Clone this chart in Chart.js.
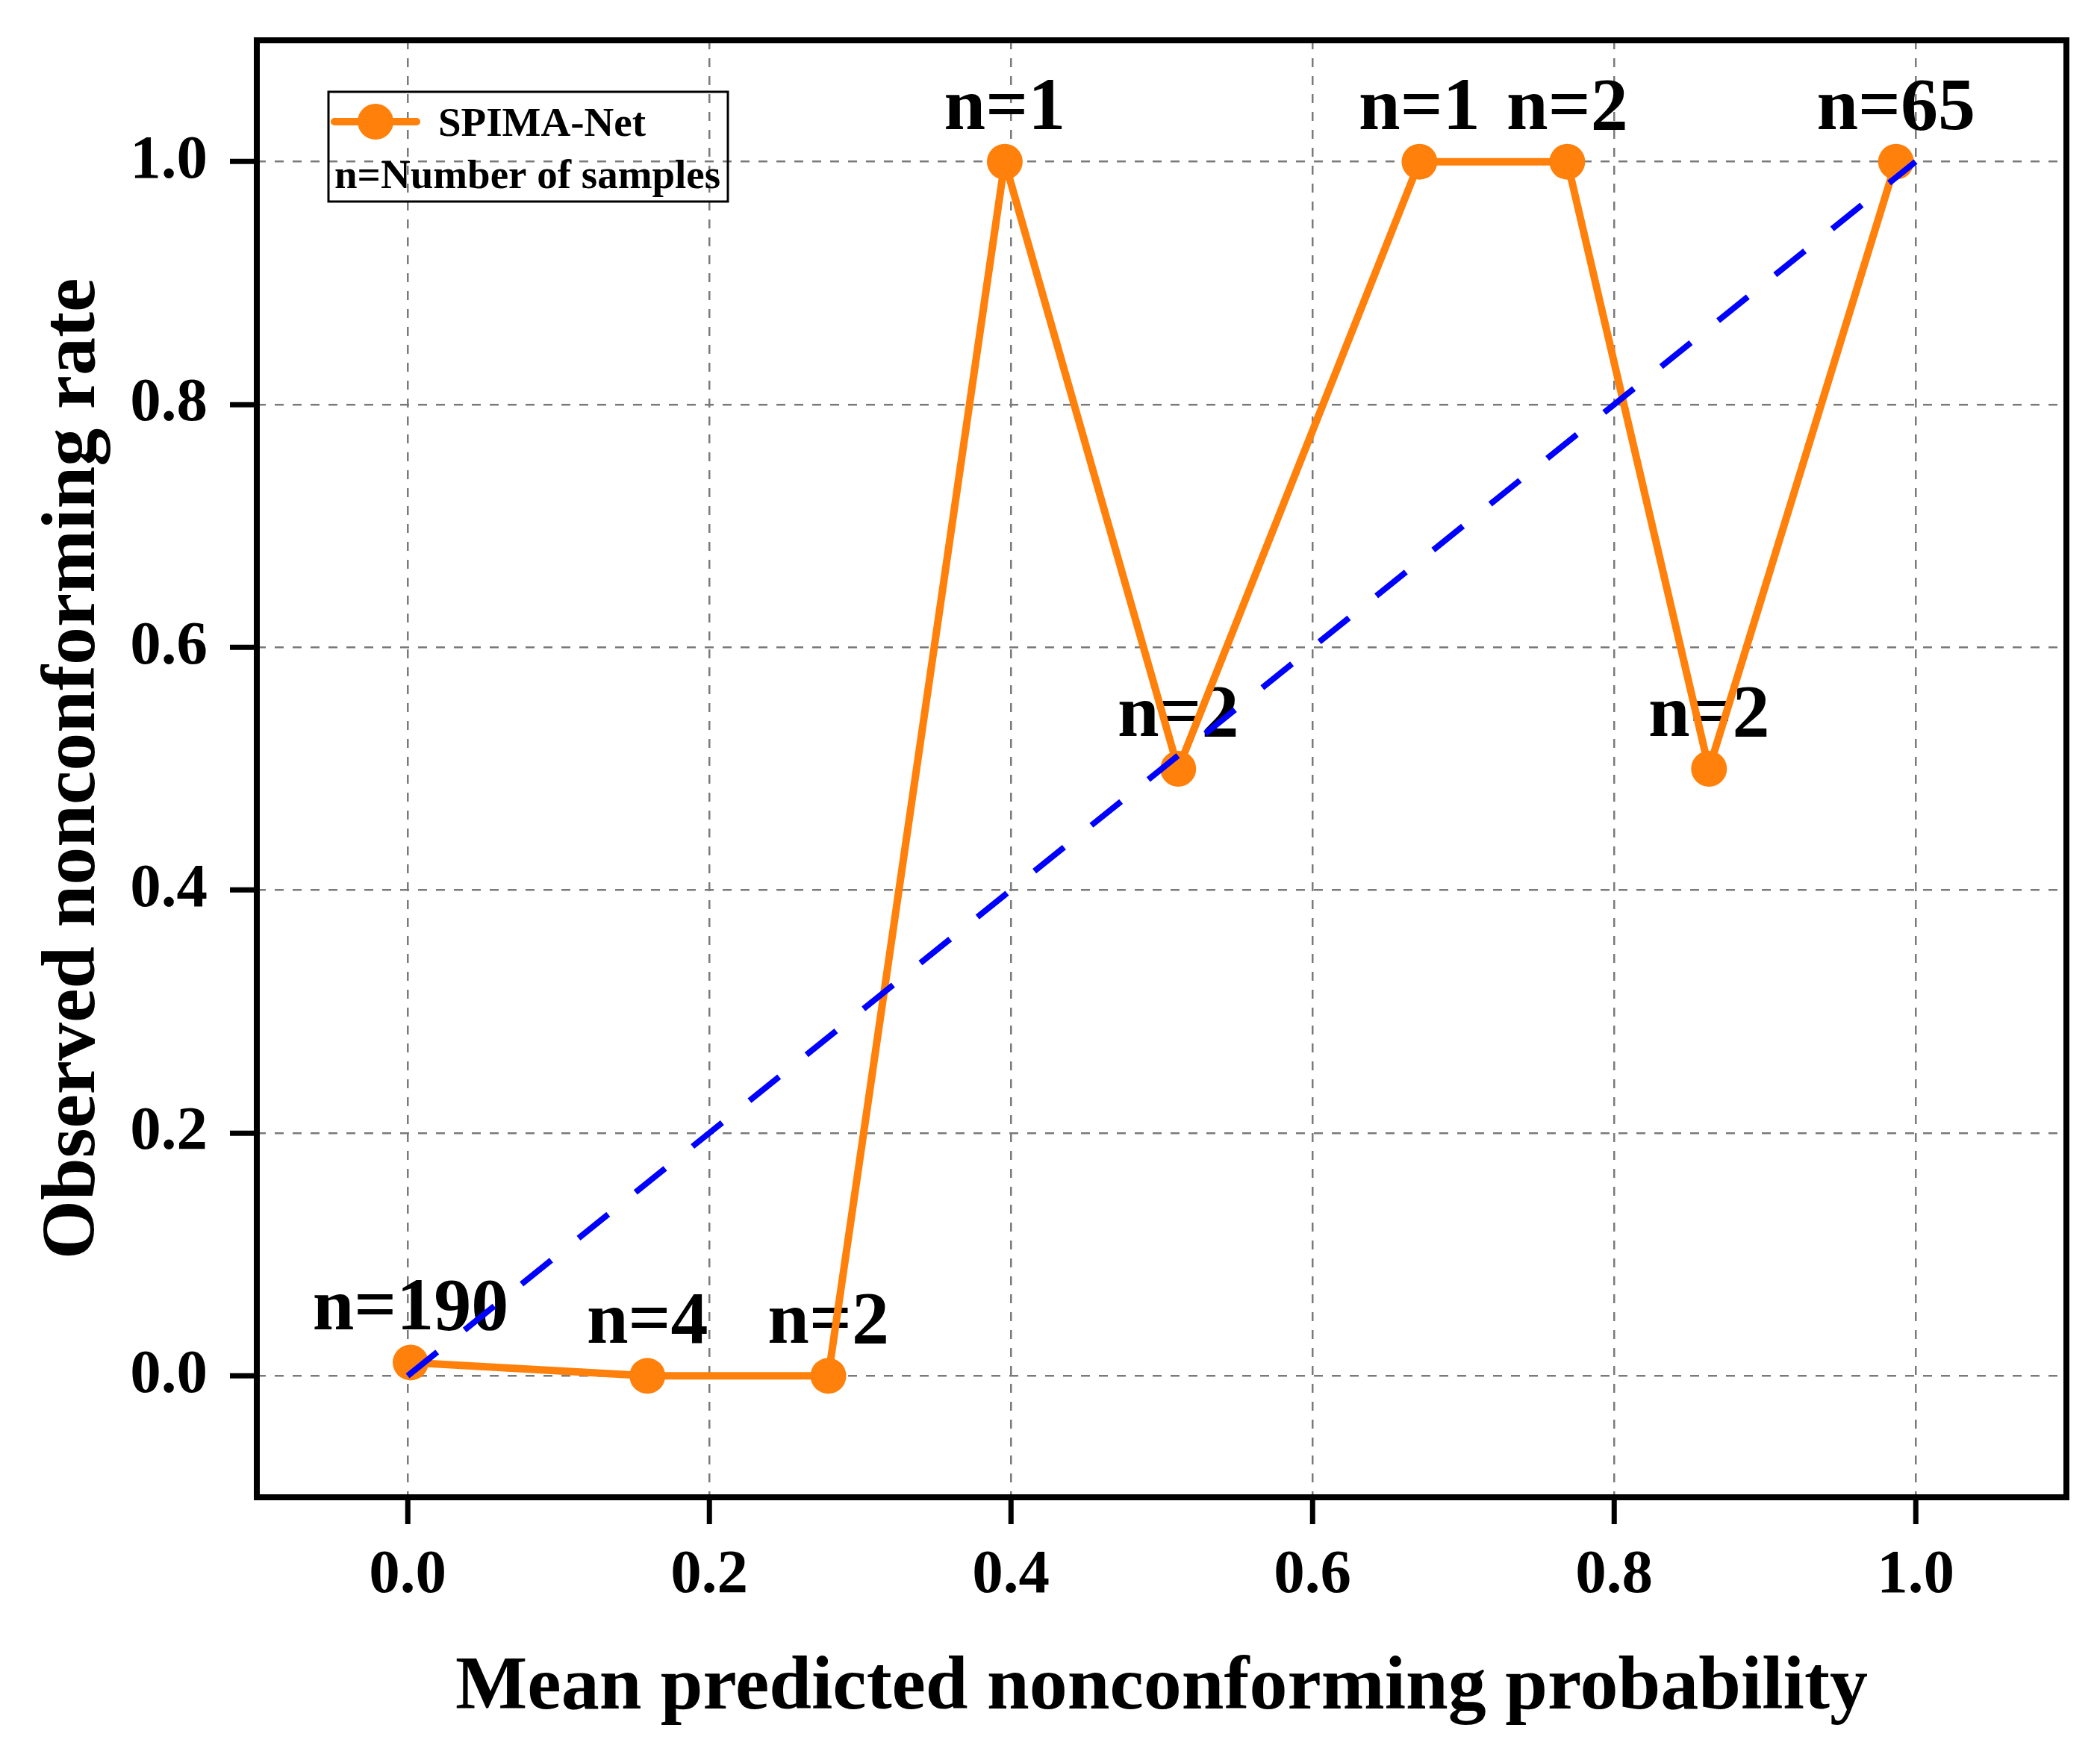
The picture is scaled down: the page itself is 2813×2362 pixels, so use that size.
<!DOCTYPE html>
<html>
<head>
<meta charset="utf-8">
<script src="https://cdn.jsdelivr.net/npm/chart.js@4.4.1/dist/chart.umd.min.js"></script>
<style>
  html, body { margin: 0; padding: 0; background: #fff; }
  canvas { display: block; }
</style>
</head>
<body>
<canvas id="c" width="2813" height="2362"></canvas>
<script>
// ---- data ----
const meanPredicted = [0.002, 0.159, 0.279, 0.396, 0.511, 0.671, 0.769, 0.863, 0.987];
const observedRate  = [0.011, 0.0, 0.0, 1.0, 0.5, 1.0, 1.0, 0.5, 1.0];
const sampleCounts  = [190, 4, 2, 1, 2, 1, 2, 2, 65];
const diagonalX = [0, 1];
const diagonalY = [0, 1];
const xTickValues = [0, 0.2, 0.4, 0.6, 0.8, 1.0];
const yTickValues = [0, 0.2, 0.4, 0.6, 0.8, 1.0];
const seriesName = 'SPIMA-Net';
const legendNote = 'n=Number of samples';
const xTitle = 'Mean predicted nonconforming probability';
const yTitle = 'Observed nonconforming rate';

const FONT = '"Liberation Serif", "Times New Roman", serif';
const ORANGE = '#ff800a';
const BLUE = '#0000ff';

const framePlugin = {
  id: 'frame',
  afterDraw(chart) {
    const {ctx, chartArea: a} = chart;
    ctx.save();
    ctx.lineWidth = 8;
    ctx.strokeStyle = '#000';
    ctx.strokeRect(a.left, a.top, a.right - a.left, a.bottom - a.top);
    ctx.restore();
  }
};

const countLabelPlugin = {
  id: 'countLabels',
  beforeDatasetsDraw(chart) {
    const {ctx} = chart;
    const meta = chart.getDatasetMeta(0);
    ctx.save();
    ctx.font = 'bold 100px ' + FONT;
    ctx.fillStyle = '#000';
    ctx.textAlign = 'center';
    ctx.textBaseline = 'alphabetic';
    meta.data.forEach((pt, i) => {
      ctx.fillText('n=' + sampleCounts[i], pt.x, pt.y - 44);
    });
    ctx.restore();
  }
};

const legendPlugin = {
  id: 'boxLegend',
  afterDraw(chart) {
    const {ctx, chartArea: a} = chart;
    const bx = a.left + 96, by = a.top + 69, bw = 535, bh = 147;
    ctx.save();
    ctx.lineWidth = 3;
    ctx.strokeStyle = '#000';
    ctx.strokeRect(bx, by, bw, bh);
    // marker
    const my = by + 40;
    ctx.strokeStyle = ORANGE;
    ctx.lineWidth = 10;
    ctx.lineCap = 'round';
    ctx.beginPath();
    ctx.moveTo(bx + 8, my);
    ctx.lineTo(bx + 118, my);
    ctx.stroke();
    ctx.fillStyle = ORANGE;
    ctx.beginPath();
    ctx.arc(bx + 63, my, 24, 0, Math.PI * 2);
    ctx.fill();
    // text
    ctx.fillStyle = '#000';
    ctx.font = 'bold 55px ' + FONT;
    ctx.textAlign = 'left';
    ctx.textBaseline = 'alphabetic';
    ctx.fillText(seriesName, bx + 147, by + 59);
    ctx.fillText(legendNote, bx + 8, by + 129);
    ctx.restore();
  }
};

const ctx = document.getElementById('c').getContext('2d');
new Chart(ctx, {
  type: 'line',
  data: {
    datasets: [
      {
        label: seriesName,
        data: meanPredicted.map((x, i) => ({x: x, y: observedRate[i]})),
        borderColor: ORANGE,
        backgroundColor: ORANGE,
        borderWidth: 10,
        pointRadius: 24,
        pointHoverRadius: 24,
        pointBorderWidth: 0,
        pointBackgroundColor: ORANGE,
        tension: 0,
        order: 2
      },
      {
        label: 'Perfect calibration',
        data: diagonalX.map((x, i) => ({x: x, y: diagonalY[i]})),
        borderColor: BLUE,
        borderWidth: 8,
        borderDash: [51, 47],
        borderCapStyle: 'butt',
        pointRadius: 0,
        tension: 0,
        order: 1
      }
    ]
  },
  options: {
    responsive: false,
    animation: false,
    devicePixelRatio: 1,
    layout: { padding: { left: 0, top: 54, right: 45, bottom: 0 } },
    plugins: {
      legend: { display: false },
      tooltip: { enabled: false }
    },
    scales: {
      x: {
        type: 'linear',
        min: -0.1,
        max: 1.1,
        bounds: 'data',
        afterBuildTicks: s => { s.ticks = xTickValues.map(v => ({value: v})); },
        afterFit: s => { s.height = 356; s.paddingLeft = 0; s.paddingRight = 0; },
        grid: {
          color: '#7a7a7a',
          lineWidth: 2.5,
          drawTicks: true,
          tickLength: 36,
          tickColor: '#000',
          tickWidth: 7,
          tickBorderDash: []
        },
        border: { display: false, dash: [12, 12] },
        ticks: {
          font: { family: FONT, size: 83, weight: 'bold' },
          color: '#000',
          padding: 20,
          maxRotation: 0,
          autoSkip: false,
          callback: v => Number(v).toFixed(1)
        },
        title: {
          display: true,
          text: xTitle,
          color: '#000',
          font: { family: FONT, size: 102, weight: 'bold' },
          padding: { top: 0, bottom: 38 }
        }
      },
      y: {
        type: 'linear',
        min: -0.1,
        max: 1.1,
        bounds: 'data',
        afterBuildTicks: s => { s.ticks = yTickValues.map(v => ({value: v})); },
        afterFit: s => { s.width = 344; s.paddingTop = 0; s.paddingBottom = 0; },
        grid: {
          color: '#7a7a7a',
          lineWidth: 2.5,
          drawTicks: true,
          tickLength: 36,
          tickColor: '#000',
          tickWidth: 7,
          tickBorderDash: []
        },
        border: { display: false, dash: [12, 12] },
        ticks: {
          font: { family: FONT, size: 83, weight: 'bold' },
          color: '#000',
          padding: 30,
          autoSkip: false,
          callback: v => Number(v).toFixed(1)
        },
        title: {
          display: true,
          text: yTitle,
          color: '#000',
          font: { family: FONT, size: 102, weight: 'bold' },
          padding: { top: 38, bottom: 0 }
        }
      }
    }
  },
  plugins: [countLabelPlugin, legendPlugin, framePlugin]
});
</script>
</body>
</html>
